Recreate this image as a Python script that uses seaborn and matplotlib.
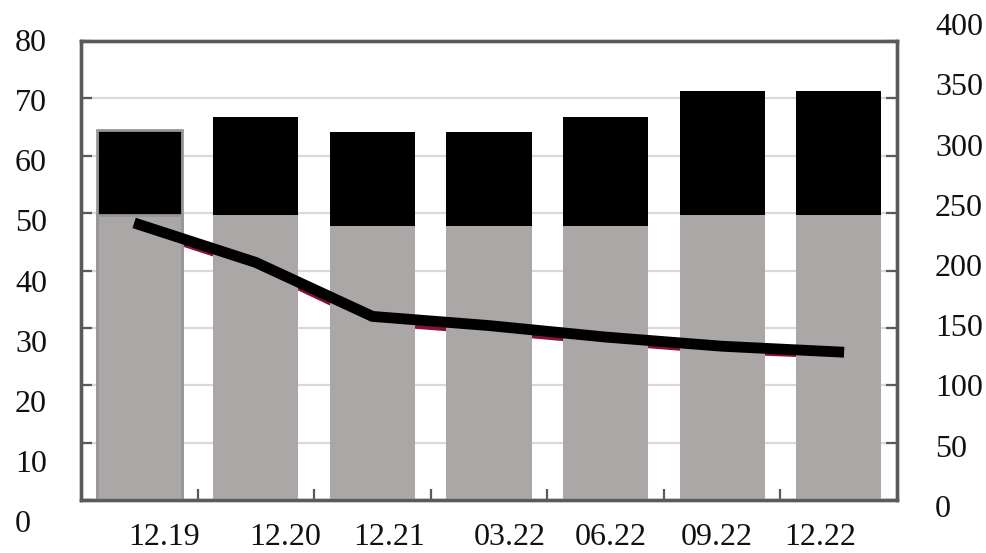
import numpy as np
import pandas as pd
import matplotlib
matplotlib.use("Agg")
import matplotlib.pyplot as plt
import matplotlib.transforms as mtransforms
import seaborn as sns

# Data
periods = ["12.19", "12.20", "12.21", "03.22", "06.22", "09.22", "12.22"]
base_values = [49.7, 49.7, 47.8, 47.8, 47.8, 49.7, 49.7]
total_values = [64.5, 66.8, 64.2, 64.2, 66.8, 71.2, 71.2]
line_values = [240, 207, 160, 152, 142, 134, 129]
shadow_values = [235, 202, 154, 146, 137, 129, 125]
left_ticks = [0, 10, 20, 30, 40, 50, 60, 70, 80]
right_ticks = [0, 50, 100, 150, 200, 250, 300, 350, 400]

LEFT_MAX, RIGHT_MAX = 80, 400

df = pd.DataFrame({"period": periods, "base": base_values, "total": total_values})
line_df = pd.DataFrame({"pos": np.arange(len(periods)), "main": line_values,
                        "shadow": shadow_values})
# the thin shadow line sits under the bars, so it is drawn on the left axis
line_df["shadow_left"] = line_df["shadow"] * LEFT_MAX / RIGHT_MAX

sns.set_theme(style="white")
plt.rcParams["font.family"] = ["Liberation Serif", "DejaVu Serif"]

SPINE = "#5a5a5a"
GRID = "#d9d9d9"
GRAY = "#aba7a6"
FS = 23

fig = plt.figure(figsize=(9.87, 5.53), dpi=100)
ax = fig.add_axes([81 / 987, 53 / 553, 816 / 987, 459 / 553])

# stacked bars: black total behind, gray base in front
sns.barplot(data=df, x="period", y="total", color="black", saturation=1,
            width=0.73, ax=ax, zorder=2)
sns.barplot(data=df, x="period", y="base", color=GRAY, saturation=1,
            width=0.73, ax=ax, zorder=3)
for p in ax.patches:
    p.set_linewidth(0)
for idx in (0, len(periods)):
    ax.patches[idx].set_edgecolor("#979797")
    ax.patches[idx].set_linewidth(2)

sns.lineplot(data=line_df, x="pos", y="shadow_left", color="#8c0f3e",
             linewidth=3, ax=ax, zorder=1.5)

ax.set_xlim(-0.5, len(periods) - 0.5)
ax.set_ylim(0, LEFT_MAX)
ax.set_yticks(left_ticks)
ax.set_xlabel("")
ax.set_ylabel("")
ax.set_axisbelow(True)
ax.yaxis.grid(True, color=GRID, linewidth=1.6)
ax.xaxis.grid(False)
ax.set_xticks(np.arange(len(periods)))
ax.set_xticks(np.arange(0.5, len(periods) - 1, 1), minor=True)
ax.tick_params(axis="x", which="major", length=0, labelbottom=False)
ax.tick_params(axis="x", which="minor", direction="in", length=8, width=1.6,
               color=SPINE, bottom=True)
ax.tick_params(axis="y", direction="in", length=8, width=1.6, color=SPINE,
               labelleft=False, left=True)
for s in ax.spines.values():
    s.set_color(SPINE)
    s.set_linewidth(2.4)

# main line series on the secondary axis
ax2 = ax.twinx()
sns.lineplot(data=line_df, x="pos", y="main", color="black", linewidth=7.8,
             ax=ax2, zorder=5, solid_capstyle="projecting",
             solid_joinstyle="miter")
ax2.set_ylim(0, RIGHT_MAX)
ax2.set_yticks(right_ticks)
ax2.set_xlim(-0.5, len(periods) - 0.5)
ax2.set_ylabel("")
ax2.grid(False)
ax2.tick_params(axis="y", direction="in", length=8, width=1.6, color=SPINE,
                labelright=False, right=True)
for s in ax2.spines.values():
    s.set_color(SPINE)
    s.set_linewidth(2.4)

# axis labels, placed as text
px = 1 / 100.0
for v in left_ticks:
    dy = 10 + (LEFT_MAX - v) / LEFT_MAX * 22
    tr = ax.get_yaxis_transform() + mtransforms.ScaledTranslation(
        -66 * px, -dy * px, fig.dpi_scale_trans)
    ax.text(0, v, str(v), transform=tr, ha="left", va="baseline",
            fontsize=FS, color="#111111", clip_on=False)

for v in right_ticks:
    dy = 17 - v / RIGHT_MAX * 23
    tr = ax2.get_yaxis_transform() + mtransforms.ScaledTranslation(
        38 * px, -dy * px, fig.dpi_scale_trans)
    ax2.text(1, v, str(v), transform=tr, ha="left", va="baseline",
             fontsize=FS, color="#111111", clip_on=False)

x_shift = [25, 29, 17, 21, 5, -5, -19]
for i, lab in enumerate(periods):
    tr = ax.get_xaxis_transform() + mtransforms.ScaledTranslation(
        x_shift[i] * px, -45 * px, fig.dpi_scale_trans)
    ax.text(i, 0, lab, transform=tr, ha="center", va="baseline",
            fontsize=FS, color="#111111", clip_on=False)

fig.savefig("out.png", dpi=100)
